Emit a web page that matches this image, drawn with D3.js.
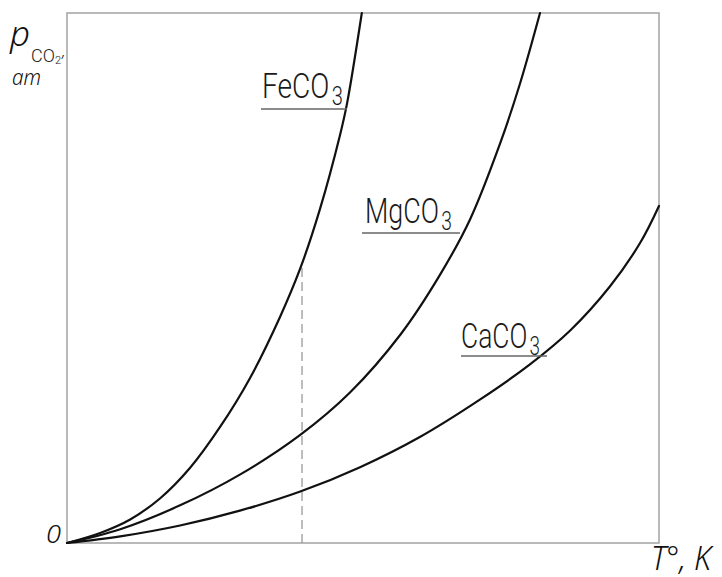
<!DOCTYPE html>
<html>
<head>
<meta charset="utf-8">
<script src="https://cdn.jsdelivr.net/npm/d3@7"></script>
<style>
  html, body { margin: 0; padding: 0; background: #fff; }
  svg { display: block; }
</style>
</head>
<body>
<svg id="chart" width="722" height="577"></svg>
<script>
// Decomposition pressure of carbonates vs temperature (relative units 0..100)
const feco3 = [[0,0],[5.6,1.9],[10.6,4.4],[15.7,8.4],[20.8,14.2],[25.8,21.8],[30.9,31.1],[36.0,42.7],[39.4,51.8],[42.7,62.9],[46.1,76.9],[47.3,82.9],[49.8,100]];
const mgco3 = [[0,0],[9.0,2.6],[19.1,7.1],[29.2,12.9],[39.4,20.4],[47.8,28.4],[56.3,39.3],[63.0,50.6],[68.1,61.1],[73.1,75.2],[76.5,86.6],[79.9,100]];
const caco3 = [[0,0],[9.0,1.25],[19.1,3.3],[29.2,6.1],[39.4,9.7],[49.5,14.3],[59.6,20.0],[69.8,27.1],[78.2,33.7],[85.0,40.1],[91.7,48.4],[96.8,56.6],[100,63.6]];
// Reference temperature marker: [T, p on the FeCO3 curve]
const marker = [39.7, 52.9];

const svg = d3.select("#chart");
const x = d3.scaleLinear().domain([0, 100]).range([67, 659]);
const y = d3.scaleLinear().domain([0, 100]).range([543, 13]);

// frame
svg.append("rect")
  .attr("x", x(0)).attr("y", y(100))
  .attr("width", x(100) - x(0)).attr("height", y(0) - y(100))
  .attr("fill", "none").attr("stroke", "#a8a8a8").attr("stroke-width", 1.6);

// dashed marker
svg.append("line")
  .attr("x1", x(marker[0])).attr("x2", x(marker[0]))
  .attr("y1", y(0)).attr("y2", y(marker[1]))
  .attr("stroke", "#9a9a9a").attr("stroke-width", 1.3)
  .attr("stroke-dasharray", "9,5");

const line = d3.line().x(d => x(d[0])).y(d => y(d[1])).curve(d3.curveCatmullRom.alpha(0.5));
[feco3, mgco3, caco3].forEach(s => {
  svg.append("path").attr("d", line(s))
    .attr("fill", "none").attr("stroke", "#111").attr("stroke-width", 2.2)
    .attr("stroke-linecap", "round");
});

// curve labels with leader underline (pixel layout)
const labels = [
  { main: "FeCO", tx: 262, tw: 81, base: 98,  ux1: 261, ux2: 347, uy: 109 },
  { main: "MgCO", tx: 365, tw: 87, base: 223, ux1: 362, ux2: 460, uy: 233 },
  { main: "CaCO", tx: 461, tw: 79, base: 348, ux1: 461, ux2: 547, uy: 356 }
];
const lf = "Roboto, 'Open Sans', 'DejaVu Sans', sans-serif";
labels.forEach(l => {
  const t = svg.append("text").attr("x", l.tx).attr("y", l.base)
    .attr("font-family", lf).attr("font-weight", 300).attr("font-size", 35)
    .attr("fill", "#1a1a1a")
    .attr("textLength", l.tw).attr("lengthAdjust", "spacingAndGlyphs");
  t.append("tspan").text(l.main);
  t.append("tspan").attr("dx", 3).attr("dy", 7).attr("font-size", 25).text("3");
  svg.append("line").attr("x1", l.ux1).attr("x2", l.ux2)
    .attr("y1", l.uy).attr("y2", l.uy)
    .attr("stroke", "#666").attr("stroke-width", 1.4);
});

// axis titles
const af = "'Noto Sans', 'Open Sans', 'DejaVu Sans', sans-serif";
const yt = svg.append("text").attr("x", 10).attr("y", 46)
  .attr("font-family", af).attr("font-style", "italic").attr("font-weight", 300)
  .attr("font-size", 35).attr("fill", "#111");
yt.append("tspan").text("p");
yt.append("tspan").attr("dy", 16).attr("dx", 1)
  .attr("font-family", lf).attr("font-style", "normal").attr("font-size", 18)
  .attr("fill", "#222").text("CO");
yt.append("tspan").attr("dy", 2)
  .attr("font-family", lf).attr("font-style", "normal").attr("font-size", 11)
  .attr("fill", "#222").text("2");
yt.append("tspan").attr("dy", -7).attr("dx", 1)
  .attr("font-size", 16).attr("fill", "#222").text(",");

svg.append("text").attr("x", 12).attr("y", 85)
  .attr("font-family", af).attr("font-style", "italic").attr("font-weight", 300)
  .attr("font-size", 22).attr("fill", "#111")
  .attr("textLength", 29).attr("lengthAdjust", "spacingAndGlyphs")
  .text("ат");

svg.append("text").attr("x", 46).attr("y", 543)
  .attr("font-family", af).attr("font-style", "italic").attr("font-weight", 300)
  .attr("font-size", 25).attr("fill", "#111")
  .attr("textLength", 15).attr("lengthAdjust", "spacingAndGlyphs")
  .text("0");

svg.append("text").attr("x", 651).attr("y", 570)
  .attr("font-family", af).attr("font-style", "italic").attr("font-weight", 300)
  .attr("font-size", 33).attr("fill", "#111")
  .attr("textLength", 60).attr("lengthAdjust", "spacingAndGlyphs")
  .text("T°, K");
</script>
</body>
</html>
